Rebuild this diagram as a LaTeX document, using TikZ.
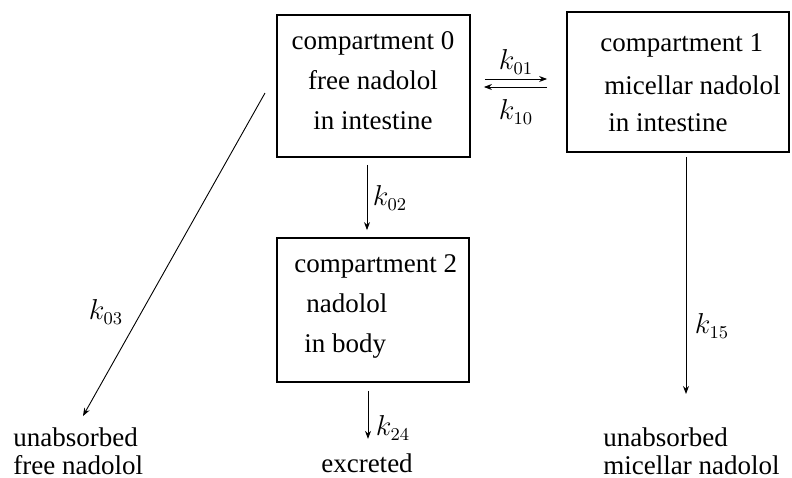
\documentclass[tikz,border=0pt]{standalone}
\usepackage{fontspec}
\setmainfont{Liberation Serif}
\usetikzlibrary{positioning,arrows.meta}
\begin{document}
\begin{tikzpicture}[x=0.5pt,y=-0.5pt,
  >={Stealth[length=4pt,width=3pt]},
  comp/.style={draw,line width=0.9pt,inner sep=0pt},
  flow/.style={->,line width=0.45pt},
  txt/.style={inner sep=0pt,font=\fontsize{13.5}{20}\selectfont},
  rate/.style={inner sep=0pt,font=\fontsize{13.5}{16}\selectfont}]
\useasboundingbox (0,0) rectangle (792,477);

\node[comp,minimum width=96.5pt,minimum height=71pt] (c0) at (373.5,86) {};
\node[comp,minimum width=111pt,minimum height=70pt] (c1) at (678,82) {};
\node[comp,minimum width=96pt,minimum height=72pt] (c2) at (373,310) {};

\node[txt,align=center] (t0) at (373,81) {compartment 0\\free nadolol\\in intestine};
\node[txt,align=left,anchor=west] (t1) at (600,83) {compartment 1\\[1.5pt]\hspace*{2pt}micellar nadolol\\[-1.5pt]\hspace*{4pt}in intestine};
\node[txt,align=left,anchor=west] (t2) at (294,306) {compartment 2\\\hspace*{6pt}nadolol\\\hspace*{5pt}in body};

\node[txt,align=left,anchor=west,font=\fontsize{13.5}{14}\selectfont] (free) at (13,451) {unabsorbed\\free nadolol};
\node[txt,anchor=base] (excr) at (367,472) {excreted};
\node[txt,align=left,anchor=west,font=\fontsize{13.5}{14}\selectfont] (mic) at (603,451) {unabsorbed\\micellar nadolol};

\coordinate (s03) at (265,93);
\coordinate (e03) at (83,416);
\coordinate (e15) at (686,394);

\draw[flow,shorten <=7pt,shorten >=9.5pt] (c0.east |- 0,79) -- (c1.west |- 0,79);
\draw[flow,shorten <=9.5pt,shorten >=6.5pt] (c1.west |- 0,87) -- (c0.east |- 0,87);
\node[rate] (k01) at (516,62) {$k_{01}$};
\node[rate] (k10) at (516,112) {$k_{10}$};

\draw[flow,shorten <=3.5pt,shorten >=3.5pt] (c0.south -| 367,0) -- (c2.north -| 367,0);
\node[rate] (k02) at (390,198) {$k_{02}$};

\draw[flow] (s03) -- (e03);
\node[rate] (k03) at (106,312) {$k_{03}$};

\draw[flow,shorten <=2pt] (c1.south -| 686,0) -- (e15);
\node[rate] (k15) at (712,326) {$k_{15}$};

\draw[flow,shorten <=4pt,shorten >=7pt] (c2.south -| 368,0) -- (excr.north -| 368,0);
\node[rate] (k24) at (393,428) {$k_{24}$};
\end{tikzpicture}
\end{document}
